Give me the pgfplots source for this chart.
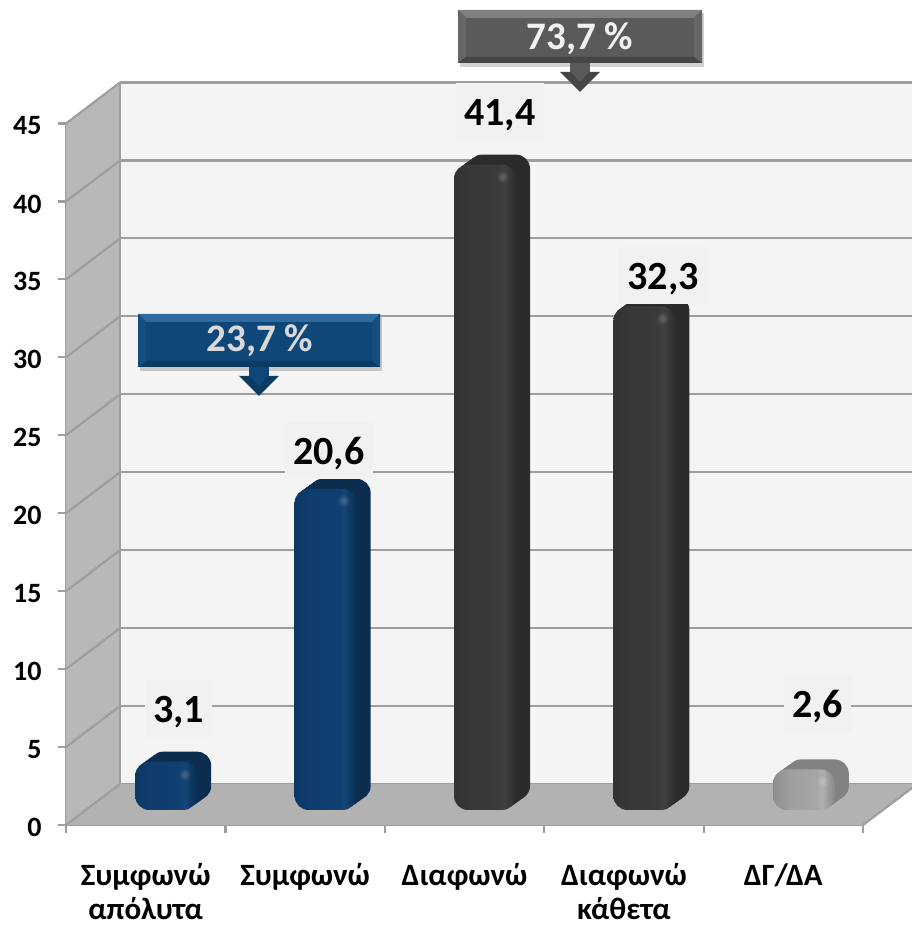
\documentclass[border=0pt]{standalone}
\usepackage{fontspec}
\setmainfont{Carlito}
\usepackage{pgfplots}
\pgfplotsset{compat=1.18}
\definecolor{wallback}{HTML}{F4F4F4}
\definecolor{labelbg}{HTML}{F1F1F1}
\definecolor{wallside}{HTML}{B8B8B8}
\definecolor{floorc}{HTML}{B2B2B2}
\definecolor{gridc}{HTML}{9E9E9E}
\definecolor{ba}{HTML}{0D3864}\definecolor{bb}{HTML}{0F3D6D}\definecolor{bc}{HTML}{103F70}\definecolor{bd}{HTML}{144576}\definecolor{be}{HTML}{0E3862}\definecolor{bf}{HTML}{0B3054}
\definecolor{da}{HTML}{333333}\definecolor{db}{HTML}{383838}\definecolor{dc}{HTML}{3A3A3A}\definecolor{dd}{HTML}{404040}\definecolor{de}{HTML}{363636}\definecolor{df}{HTML}{2F2F2F}
\definecolor{la}{HTML}{8E8E8E}\definecolor{lb}{HTML}{A0A0A0}\definecolor{lc}{HTML}{A6A6A6}\definecolor{ld}{HTML}{B0B0B0}\definecolor{le}{HTML}{9A9A9A}\definecolor{lf}{HTML}{8A8A8A}
\definecolor{sideblue}{HTML}{0A2D50}
\definecolor{sidedark}{HTML}{2B2B2B}
\definecolor{sidelight}{HTML}{828282}
\definecolor{cbbase}{HTML}{0F4778}\definecolor{cblight}{HTML}{2F6A9E}\definecolor{cbmid}{HTML}{134E82}\definecolor{cbdark}{HTML}{0B3A63}
\definecolor{cgbase}{HTML}{5A5A5A}\definecolor{cglight}{HTML}{808080}\definecolor{cgmid}{HTML}{666666}\definecolor{cgdark}{HTML}{454545}
\definecolor{ctb}{HTML}{D9D9D9}\definecolor{ctg}{HTML}{F2F2F2}
\pgfdeclarehorizontalshading{barblue}{100bp}{color(0bp)=(ba);color(25bp)=(ba);color(40bp)=(bb);color(60bp)=(bc);color(65bp)=(bd);color(70bp)=(be);color(75bp)=(bf);color(100bp)=(bf)}
\pgfdeclarehorizontalshading{bardark}{100bp}{color(0bp)=(da);color(25bp)=(da);color(40bp)=(db);color(60bp)=(dc);color(65bp)=(dd);color(70bp)=(de);color(75bp)=(df);color(100bp)=(df)}
\pgfdeclarehorizontalshading{barlight}{100bp}{color(0bp)=(la);color(25bp)=(la);color(40bp)=(lb);color(60bp)=(lc);color(65bp)=(ld);color(70bp)=(le);color(75bp)=(lf);color(100bp)=(lf)}
% one bar: x, value, front shading, side colour
\newcommand{\onebar}[4]{%
  \addplot[ybar,bar width=62pt,bar shift=0pt,draw=none,fill=#4,rounded corners=14pt,xshift=14pt,yshift=10pt] coordinates {(#1,#2)};
  \addplot[ybar,bar width=62pt,bar shift=0pt,draw=none,fill=#4,rounded corners=14pt,xshift=10.5pt,yshift=7.5pt] coordinates {(#1,#2)};
  \addplot[ybar,bar width=62pt,bar shift=0pt,draw=none,fill=#4,rounded corners=14pt,xshift=7pt,yshift=5pt] coordinates {(#1,#2)};
  \addplot[ybar,bar width=62pt,bar shift=0pt,draw=none,fill=#4,rounded corners=14pt,xshift=3.5pt,yshift=2.5pt] coordinates {(#1,#2)};
  \addplot[ybar,bar width=62pt,bar shift=0pt,draw=none,shading=#3,rounded corners=14pt] coordinates {(#1,#2)};
}
\newcommand{\glint}[2]{%
  \fill[white,opacity=.05] (#1,#2) circle (6);
  \fill[white,opacity=.07] (#1,#2) circle (4);
  \fill[white,opacity=.07] (#1,#2) circle (2.2);
}
\newcommand{\biglabel}[2]{%
  \node[text=black,inner sep=0pt,font=\bfseries\fontsize{40}{40}\selectfont] at (#1) {#2};
}
% callout: x0,y0,x1,y1, base, light, mid, dark, arrow-centre
\newcommand{\callout}[9]{%
  \fill[black,opacity=.18] (#1+2,#2+3) rectangle (#3+2,#4+4);
  \fill[#5] (#1,#2) rectangle (#3,#4);
  \fill[#6] (#1,#2) -- (#3,#2) -- (#3-8,#2+8) -- (#1+8,#2+8) -- cycle;
  \fill[#7] (#1,#2) -- (#1+8,#2+8) -- (#1+8,#4-6) -- (#1,#4) -- cycle;
  \fill[#7] (#3,#2) -- (#3-8,#2+8) -- (#3-8,#4-6) -- (#3,#4) -- cycle;
  \fill[#8] (#1,#4) -- (#1+8,#4-6) -- (#3-8,#4-6) -- (#3,#4) -- cycle;
  \fill[#5] (#9-10,#4) rectangle (#9+10,#4+10);
  \fill[#8] (#9-20,#4+9) -- (#9+20,#4+9) -- (#9,#4+29) -- cycle;
  \fill[#5] (#9-10,#4+8) -- (#9+10,#4+8) -- (#9,#4+19) -- cycle;
}
\begin{document}
\begin{tikzpicture}[x=1pt,y=1pt]
\path[use as bounding box] (0,0) rectangle (912,929);
% back wall
\begin{axis}[
  at={(120pt,145pt)},anchor=origin,scale only axis,width=792pt,height=701.5pt,
  xmin=0,xmax=5,ymin=0,ymax=45,
  axis lines=none,
  ytick={0,5,...,45},xtick=\empty,
  axis background/.style={fill=wallback},
  clip=false]
  \pgfplotsinvokeforeach{0,5,...,45}{\draw[gridc,line width=2.2pt] (axis cs:0,#1) -- (axis cs:5,#1);}
\end{axis}
% front axes, side wall and floor
\begin{axis}[
  at={(66pt,104pt)},anchor=origin,scale only axis,width=797pt,height=701.5pt,
  xmin=0,xmax=5,ymin=0,ymax=45,
  axis lines=left,axis line style={-,gridc,line width=2.2pt},
  tick style={gridc,line width=2.2pt},tick align=outside,major tick length=8pt,
  ytick={0,5,...,45},xtick={0,1,...,5},xticklabels={},
  extra x ticks={0.5,1.5,2.5,3.5,4.5},
  extra x tick style={major tick length=0pt},
  extra x tick labels={{Συμφωνώ\\απόλυτα},{Συμφωνώ},{Διαφωνώ},{Διαφωνώ\\κάθετα},{ΔΓ/ΔΑ}},
  xticklabel style={font=\bfseries\fontsize{31}{34}\selectfont,align=center,anchor=north,yshift=-35pt},
  yticklabel style={font=\bfseries\fontsize{28}{28}\selectfont,anchor=east,xshift=-13pt,yshift=-2.5pt},
  /pgf/number format/assume math mode=true,
  clip=false]
  \fill[wallside] (axis cs:0,0) -- (axis cs:0.339,2.63) -- (axis cs:0.339,47.63) -- (axis cs:0,45) -- cycle;
  \fill[floorc] (axis cs:0,0) -- (axis cs:5,0) -- (axis cs:5.307,2.37) -- (axis cs:5.307,2.63) -- (axis cs:0.339,2.63) -- cycle;
  \pgfplotsinvokeforeach{0,5,...,45}{\draw[gridc,line width=2.2pt] (axis cs:0,#1) -- (axis cs:0.339,#1+2.63);}
  \draw[gridc,line width=2.2pt] (axis cs:0.339,2.63) -- (axis cs:0.339,47.63);
  \draw[gridc,line width=2.2pt] (axis cs:5,0) -- (axis cs:5.307,2.37);
\end{axis}
% bars
\begin{axis}[
  at={(86.5pt,119pt)},anchor=origin,scale only axis,width=797pt,height=701.5pt,
  xmin=0,xmax=5,ymin=0,ymax=45,axis lines=none,clip=false]
  \onebar{0.5}{3.1}{barblue}{sideblue}
  \onebar{1.5}{20.6}{barblue}{sideblue}
  \onebar{2.5}{41.4}{bardark}{sidedark}
  \onebar{3.5}{32.3}{bardark}{sidedark}
  \onebar{4.5}{2.6}{barlight}{sidelight}
\end{axis}
\begin{scope}[yshift=929pt,y=-1pt,x=1pt]
  \glint{185}{775}\glint{344}{501}\glint{503}{177}\glint{663}{319}\glint{823}{782}
  % data labels
  \fill[labelbg] (145,680) rectangle (212,737);
  \fill[labelbg] (285,422) rectangle (373,479);
  \fill[labelbg] (456,83) rectangle (544,140);
  \fill[labelbg] (619,247) rectangle (707,304);
  \fill[labelbg] (784,675) rectangle (851,732);
  \biglabel{178.5,712}{3,1}
  \biglabel{329,454}{20,6}
  \biglabel{500,115}{41,4}
  \biglabel{663,279}{32,3}
  \biglabel{817.5,707}{2,6}
  % call-outs
  \callout{138}{314}{380}{367}{cbbase}{cblight}{cbmid}{cbdark}{259}
  \node[text=ctb,font=\bfseries\fontsize{39}{39}\selectfont] at (260,341) {23,7 \%};
  \callout{458}{10}{702}{63}{cgbase}{cglight}{cgmid}{cgdark}{580}
  \node[text=ctg,font=\bfseries\fontsize{39}{39}\selectfont] at (580,39) {73,7 \%};
\end{scope}
\end{tikzpicture}
\end{document}
